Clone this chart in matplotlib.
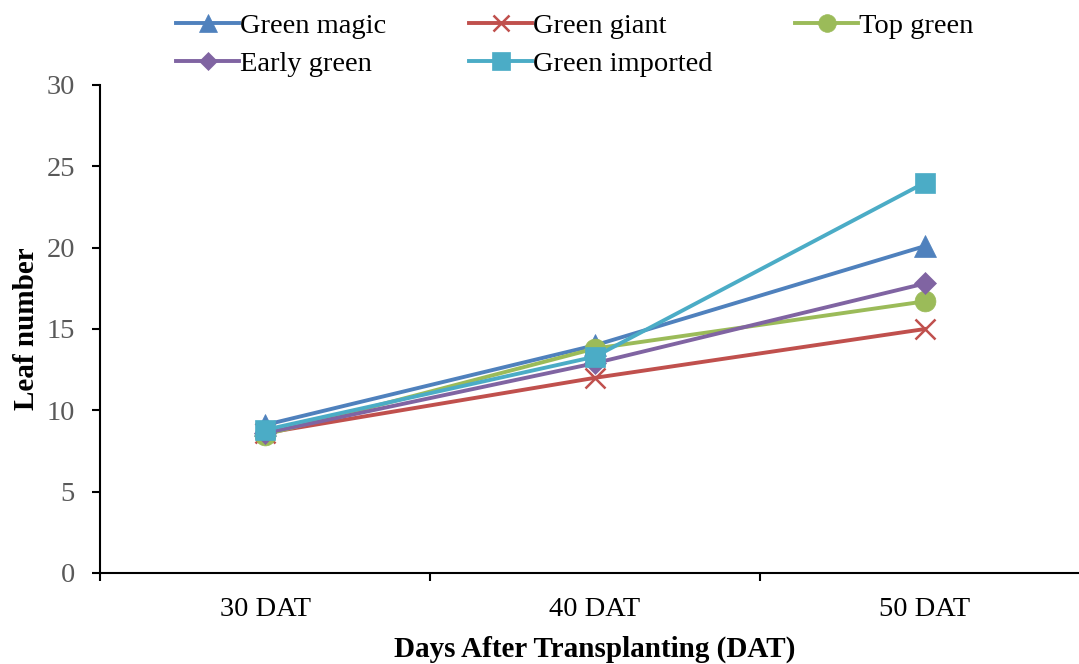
import matplotlib.pyplot as plt

plt.rcParams['font.family'] = ['Liberation Serif', 'DejaVu Serif']

stages = ['30 DAT', '40 DAT', '50 DAT']
green_magic = [9.1, 14.0, 20.1]
green_giant = [8.6, 12.0, 15.0]
top_green = [8.5, 13.8, 16.7]
early_green = [8.6, 12.9, 17.8]
green_imported = [8.8, 13.3, 24.0]

series = [
    ('Green magic', green_magic, '#4F81BD', '^', 16),
    ('Green giant', green_giant, '#C0504D', 'x', 14),
    ('Top green', top_green, '#9BBB59', 'o', 15),
    ('Early green', early_green, '#8064A2', 'D', 11),
    ('Green imported', green_imported, '#4BACC6', 's', 15),
]

fig = plt.figure(figsize=(10.79, 6.64), dpi=100)
ax = fig.add_axes([100 / 1079, 91 / 664, 990 / 1079, 488 / 664])

x = list(range(len(stages)))
lines = {}
for name, vals, color, marker, ms in series:
    ln, = ax.plot(x, vals, color=color, lw=2.8, marker=marker, ms=ms,
                  mew=1.8 if marker == 'x' else 0.5, mec=color, label=name)
    lines[name] = ln

ax.set_xlim(-0.5, 2.5)
ax.set_ylim(0, 30)
ax.set_yticks(range(0, 31, 5))
ax.set_xticks(x)
ax.set_xticklabels(stages)
ax.set_xticks([-0.5, 0.5, 1.5, 2.5], minor=True)

ax.spines['top'].set_visible(False)
ax.spines['right'].set_visible(False)
for s in ('left', 'bottom'):
    ax.spines[s].set_linewidth(1.5)

ax.tick_params(axis='y', length=6, width=1.5, pad=12, labelsize=20.5,
               labelcolor='#595959')
ax.tick_params(axis='x', which='major', length=0, pad=17, labelsize=20.5)
ax.tick_params(axis='x', which='minor', length=6, width=1.5)

ax.set_xlabel('Days After Transplanting (DAT)', fontsize=21, fontweight='bold',
              labelpad=10)
ax.set_ylabel('Leaf number', fontsize=21, fontweight='bold', labelpad=5)

# legend is filled column by column, so order entries to read across rows
order = ['Green magic', 'Early green', 'Green giant', 'Green imported', 'Top green']
fig.legend([lines[n] for n in order], order, ncol=3, loc='upper left',
           bbox_to_anchor=(165 / 1079, 0.997), frameon=False, fontsize=20.5,
           handlelength=2.2, handletextpad=0.05, columnspacing=2.9,
           labelspacing=0.42, markerscale=0.85, borderaxespad=0)

fig.savefig('out.png', dpi=100)
